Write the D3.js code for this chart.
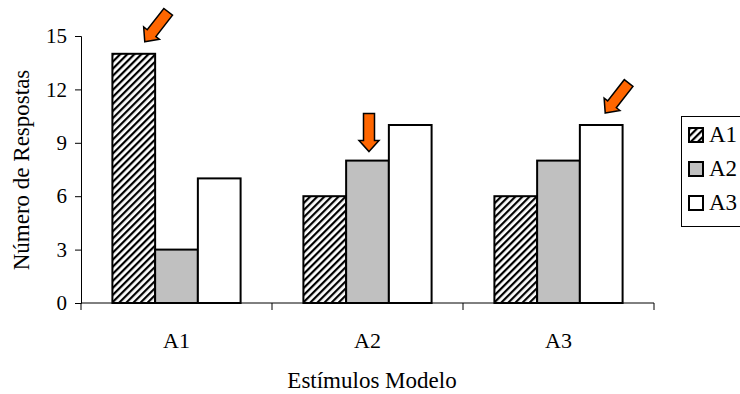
<!DOCTYPE html>
<html>
<head>
<meta charset="utf-8">
<script src="https://cdn.jsdelivr.net/npm/d3@7"></script>
<style>
  body { margin: 0; background: #fff; }
  svg { display: block; font-family: "Liberation Serif", "Times New Roman", serif; }
</style>
</head>
<body>
<svg id="chart" width="740" height="394"></svg>
<script>
let width = 740, height = 394;

// data
let categories = ["A1", "A2", "A3"];
let series = ["A1", "A2", "A3"];
let values = [
    [14, 3, 7],   // Estímulo A1
    [6, 8, 10],   // Estímulo A2
    [6, 8, 10]    // Estímulo A3
];
let yTicks = [0, 3, 6, 9, 12, 15];
// arrows: which category / series bar they point at
let arrows = [
    { cat: "A1", ser: "A1", angle: 38, dx: 11, dy: -12 },
    { cat: "A2", ser: "A2", angle: 0, dx: 1.5, dy: -9 },
    { cat: "A3", ser: "A3", angle: 38, dx: 4, dy: -12 }
];

let fills = { "A1": "url(#hatch)", "A2": "#c0c0c0", "A3": "#ffffff" };

let svg = d3.select('#chart');

// hatch pattern
let pat = svg.append('defs').append('pattern')
    .attr('id', 'hatch')
    .attr('patternUnits', 'userSpaceOnUse')
    .attr('width', 5).attr('height', 5)
    .attr('patternTransform', 'rotate(45)');
pat.append('rect').attr('width', 5).attr('height', 5).attr('fill', '#fff');
pat.append('rect')
    .attr('x', 0).attr('y', 0).attr('width', 2.2).attr('height', 5)
    .attr('fill', '#000');

let x0 = d3.scaleBand().domain(categories).range([81, 654]);
let x1 = d3.scaleBand().domain(series).range([0, x0.bandwidth()]).paddingOuter(0.735);
let y = d3.scaleLinear().domain([0, 15]).range([303, 36]);

// y axis
let yAxis = svg.append('g')
    .attr('transform', 'translate(81,0)')
    .call(d3.axisLeft(y).tickValues(yTicks).tickSize(6).tickPadding(8));
yAxis.select('.domain').attr('stroke', '#000').attr('stroke-width', 1);
yAxis.selectAll('.tick line').attr('stroke', '#000');
yAxis.selectAll('.tick text')
    .attr('font-family', '"Liberation Serif", serif')
    .attr('font-size', 21).attr('fill', '#000');

// bars
let groups = svg.append('g').selectAll('g')
    .data(categories)
    .enter().append('g')
    .attr('transform', (d) => 'translate(' + x0(d) + ',0)');

groups.selectAll('rect')
    .data((d, i) => series.map((s, j) => ({ ser: s, v: values[i][j] })))
    .enter().append('rect')
    .attr('x', (d) => x1(d.ser))
    .attr('y', (d) => y(d.v))
    .attr('width', x1.bandwidth())
    .attr('height', (d) => y(0) - y(d.v))
    .attr('fill', (d) => fills[d.ser])
    .attr('stroke', '#000')
    .attr('stroke-width', 2);

// x axis (ticks at category boundaries)
let xa = svg.append('g');
xa.append('line')
    .attr('x1', 81).attr('x2', 654).attr('y1', y(0)).attr('y2', y(0))
    .attr('stroke', '#000').attr('stroke-width', 1);
let bounds = categories.map((c) => x0(c)).concat([x0.range()[1]]);
xa.selectAll('line.tk')
    .data(bounds)
    .enter().append('line')
    .attr('class', 'tk')
    .attr('x1', (d) => d).attr('x2', (d) => d)
    .attr('y1', y(0)).attr('y2', y(0) + 7)
    .attr('stroke', '#000');
xa.selectAll('text')
    .data(categories)
    .enter().append('text')
    .attr('x', (d) => x0(d) + x0.bandwidth() / 2)
    .attr('y', 348)
    .attr('text-anchor', 'middle')
    .attr('font-size', 22)
    .text((d) => d);

// axis titles
svg.append('text')
    .attr('x', 372).attr('y', 388)
    .attr('text-anchor', 'middle')
    .attr('font-size', 23)
    .text('Estímulos Modelo');
svg.append('text')
    .attr('transform', 'translate(29,170) rotate(-90)')
    .attr('text-anchor', 'middle')
    .attr('font-size', 23)
    .text('Número de Respostas');

// arrows
let arrowPath = 'M0,0 L10,-11 L5.5,-11 L5.5,-38 L-5.5,-38 L-5.5,-11 L-10,-11 Z';
svg.append('g').selectAll('path')
    .data(arrows)
    .enter().append('path')
    .attr('d', arrowPath)
    .attr('transform', (d) => {
        let i = categories.indexOf(d.cat), j = series.indexOf(d.ser);
        let bx = x0(d.cat) + x1(d.ser) + x1.bandwidth() / 2 + d.dx;
        let by = y(values[i][j]) + d.dy;
        return 'translate(' + bx + ',' + by + ') rotate(' + d.angle + ')';
    })
    .attr('fill', '#ff6600')
    .attr('stroke', '#000')
    .attr('stroke-width', 1.5)
    .attr('stroke-linejoin', 'miter');

// legend
let legend = svg.append('g');
legend.append('rect')
    .attr('x', 681.5).attr('y', 116.5)
    .attr('width', 70).attr('height', 110)
    .attr('fill', '#fff').attr('stroke', '#000').attr('stroke-width', 1);
let item = legend.selectAll('g')
    .data(series)
    .enter().append('g')
    .attr('transform', (d, i) => 'translate(689,' + (128 + i * 34) + ')');
item.append('rect')
    .attr('width', 14).attr('height', 14)
    .attr('fill', (d) => fills[d])
    .attr('stroke', '#000').attr('stroke-width', 2);
item.append('text')
    .attr('x', 20).attr('y', 14)
    .attr('font-size', 23)
    .text((d) => d);
</script>
</body>
</html>
